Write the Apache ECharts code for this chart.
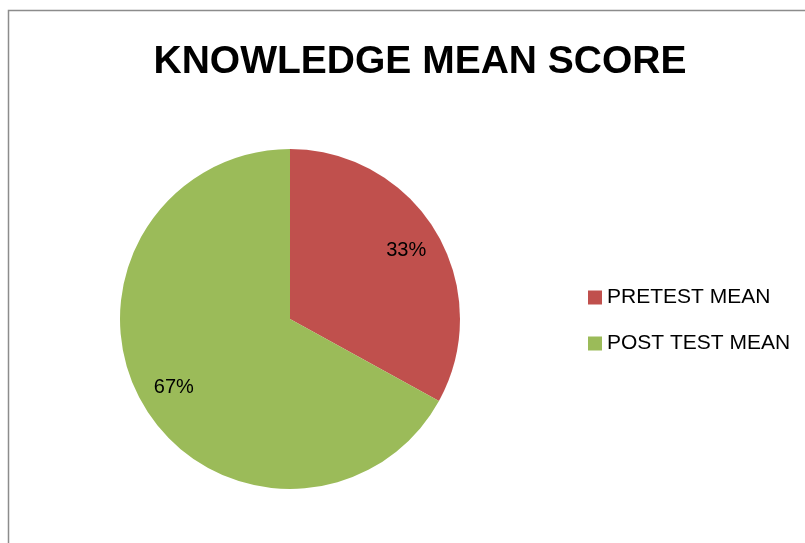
<!DOCTYPE html>
<html>
<head>
<meta charset="utf-8">
<script src="https://cdn.jsdelivr.net/npm/echarts@6/dist/echarts.min.js"></script>
<style>
  html, body { margin: 0; padding: 0; background: #fff; }
  #chart { width: 805px; height: 543px; }
</style>
</head>
<body>
<div id="chart"></div>
<script>
// data
const categories = ['PRETEST MEAN', 'POST TEST MEAN'];
const values = [33, 67];
const colors = ['#C0504D', '#9BBB59'];

const font = 'Liberation Sans, Arial, sans-serif';
const pieData = categories.map((name, i) => ({ name, value: values[i], itemStyle: { color: colors[i] } }));

const chart = echarts.init(document.getElementById('chart'));
chart.setOption({
    animation: false,
    title: {
        text: 'KNOWLEDGE MEAN SCORE',
        left: 415,
        textAlign: 'center',
        top: 38,
        textStyle: { fontFamily: font, fontWeight: 'bold', fontSize: 39, color: '#000' }
    },
    legend: {
        orient: 'vertical',
        left: 583,
        top: 282,
        itemWidth: 14,
        itemHeight: 14,
        itemGap: 25,
        icon: 'rect',
        data: categories,
        textStyle: { fontFamily: font, fontSize: 21, color: '#000' }
    },
    graphic: [{
        type: 'rect',
        shape: { x: 8.5, y: 10.5, width: 820, height: 560 },
        style: { fill: 'none', stroke: '#8c8c8c', lineWidth: 1.5 },
        silent: true
    }],
    series: [{
        type: 'pie',
        center: [290, 319],
        radius: 170,
        startAngle: 90,
        clockwise: true,
        label: { show: false },
        labelLine: { show: false },
        data: pieData
    }, {
        // invisible ring only for placing the percent labels
        type: 'pie',
        center: [290, 319],
        radius: [94, 170],
        startAngle: 90,
        clockwise: true,
        silent: true,
        itemStyle: { color: 'transparent' },
        label: {
            show: true,
            position: 'inside',
            formatter: '{c}%',
            fontFamily: font,
            fontSize: 20,
            color: '#000'
        },
        labelLine: { show: false },
        data: categories.map((name, i) => ({ name, value: values[i] }))
    }]
});
</script>
</body>
</html>
